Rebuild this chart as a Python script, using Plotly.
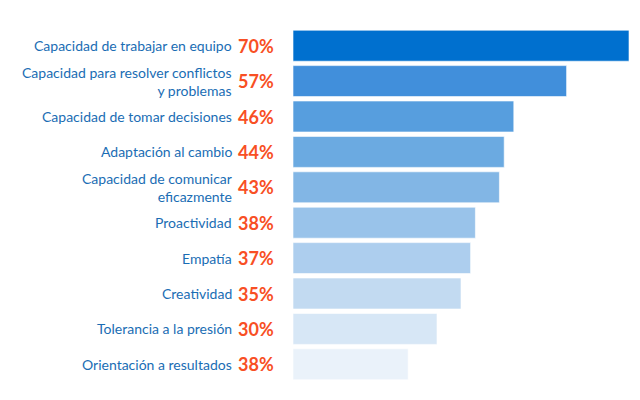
import plotly.graph_objects as go

# Data
skills = [
    "Capacidad de trabajar en equipo",
    "Capacidad para resolver conflictos<br>y problemas",
    "Capacidad de tomar decisiones",
    "Adaptación al cambio",
    "Capacidad de comunicar<br>eficazmente",
    "Proactividad",
    "Empatía",
    "Creatividad",
    "Tolerancia a la presión",
    "Orientación a resultados",
]
bar_values = [70, 57, 46, 44, 43, 38, 37, 35, 30, 24]
pct_labels = ["70%", "57%", "46%", "44%", "43%", "38%", "37%", "35%", "30%", "38%"]
bar_colors = ["#0070cf", "#418fdb", "#579ede", "#6baae1", "#82b6e5",
              "#99c3ea", "#adceee", "#c2daf1", "#d7e7f6", "#eaf2fa"]

fig = go.Figure()
fig.add_trace(go.Bar(
    x=bar_values,
    y=list(range(len(skills))),
    orientation="h",
    marker=dict(color=bar_colors, line=dict(color="rgba(255,255,255,0.6)", width=1)),
    hoverinfo="skip",
    showlegend=False,
))

# skill labels and percentages, anchored to the left edge of the bars
for i, (name, pct) in enumerate(zip(skills, pct_labels)):
    fig.add_annotation(
        x=0, y=i, xref="x", yref="y",
        text=name, showarrow=False, align="right",
        xanchor="right", yanchor="middle", xshift=-59,
        font=dict(family="Lato, Open Sans, sans-serif", size=14, color="#1a6db4"),
    )
    fig.add_annotation(
        x=0, y=i, xref="x", yref="y",
        text="<b>" + pct + "</b>", showarrow=False,
        xanchor="right", yanchor="middle", xshift=-17,
        font=dict(family="Lato, Open Sans, sans-serif", size=18, color="#f84f24"),
    )

fig.update_xaxes(range=[0, 70], visible=False, fixedrange=True)
fig.update_yaxes(range=[9.5, -0.5], visible=False, fixedrange=True)
# page body adds an 8px offset, so the figure is 8px smaller than the window
fig.update_layout(
    width=632, height=392,
    margin=dict(l=285, r=11, t=20, b=18),
    bargap=0.125,
    plot_bgcolor="white", paper_bgcolor="white",
)

fig.write_html("out.html")
